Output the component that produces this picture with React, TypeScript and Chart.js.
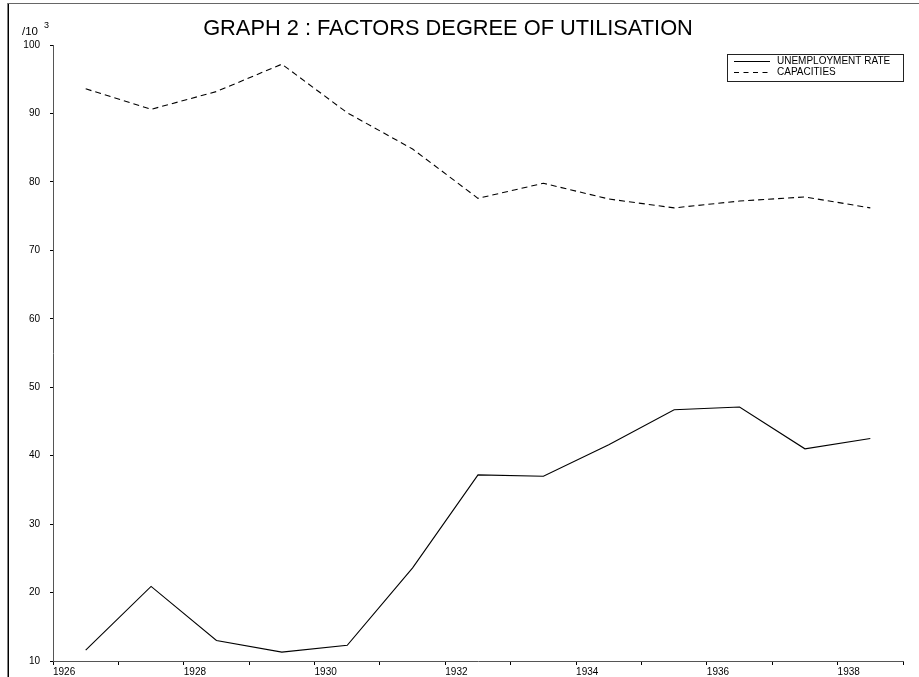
import { useEffect, useRef } from 'react';
import { Chart, registerables } from 'chart.js';

Chart.register(...registerables);

// Mid-year observation points
const periods = [1926.5, 1927.5, 1928.5, 1929.5, 1930.5, 1931.5, 1932.5, 1933.5, 1934.5, 1935.5, 1936.5, 1937.5, 1938.5];
const unemploymentRate = [11.6, 20.9, 13.0, 11.3, 12.3, 23.6, 37.2, 37.0, 41.6, 46.7, 47.1, 41.0, 42.5];
const capacities = [93.6, 90.6, 93.2, 97.2, 90.1, 84.8, 77.6, 79.8, 77.5, 76.2, 77.2, 77.8, 76.2];

const seriesLabels = ['UNEMPLOYMENT RATE', 'CAPACITIES'];
const titleText = 'GRAPH 2 : FACTORS DEGREE OF UTILISATION';
const unitText = '/10';
const unitExponent = '3';

const xMin = 1926;
const xMax = 1939;
const yMin = 10;
const yMax = 100;

const FONT = '"Liberation Sans", Arial, sans-serif';

export default function App() {
  const ref = useRef<HTMLCanvasElement>(null);

  useEffect(() => {
    const canvas = ref.current;
    if (!canvas) return;

    const decorations = {
      id: 'decorations',
      afterDraw(chart: any) {
        const ctx = chart.ctx as CanvasRenderingContext2D;
        ctx.save();
        // frame (left and top lines)
        ctx.strokeStyle = '#000';
        ctx.lineWidth = 1.5;
        ctx.beginPath();
        ctx.moveTo(8.25, 3);
        ctx.lineTo(8.25, 677);
        ctx.stroke();
        ctx.strokeStyle = '#666';
        ctx.lineWidth = 1.2;
        ctx.beginPath();
        ctx.moveTo(8, 3.5);
        ctx.lineTo(919, 3.5);
        ctx.stroke();

        // title
        ctx.fillStyle = '#000';
        ctx.font = `21.8px ${FONT}`;
        ctx.textAlign = 'center';
        ctx.textBaseline = 'alphabetic';
        ctx.fillText(titleText, 448, 35);

        // unit label
        ctx.textAlign = 'left';
        ctx.font = `11.5px ${FONT}`;
        ctx.fillText(unitText, 22, 35);
        ctx.font = `9px ${FONT}`;
        ctx.fillText(unitExponent, 44, 28);

        // legend
        ctx.strokeStyle = '#222';
        ctx.lineWidth = 1;
        ctx.strokeRect(727.5, 54.5, 176, 27);
        const ds = chart.data.datasets;
        const rows = [61.5, 72.5];
        ds.forEach((d: any, i: number) => {
          ctx.beginPath();
          ctx.setLineDash(d.borderDash ? [5, 4.5] : []);
          ctx.strokeStyle = '#000';
          ctx.lineWidth = 1;
          ctx.moveTo(734, rows[i]);
          ctx.lineTo(770, rows[i]);
          ctx.stroke();
          ctx.setLineDash([]);
          ctx.fillStyle = '#000';
          ctx.font = `10px ${FONT}`;
          ctx.textBaseline = 'middle';
          ctx.fillText(d.label, 777, rows[i]);
        });
        ctx.restore();
      },
    };

    const chart = new Chart(canvas, {
      type: 'line',
      data: {
        datasets: [
          {
            label: seriesLabels[0],
            data: periods.map((x, i) => ({ x, y: unemploymentRate[i] })),
            borderColor: '#000',
            borderWidth: 1.1,
            pointRadius: 0,
            tension: 0,
            fill: false,
          },
          {
            label: seriesLabels[1],
            data: periods.map((x, i) => ({ x, y: capacities[i] })),
            borderColor: '#000',
            borderWidth: 1.1,
            borderDash: [6, 4],
            pointRadius: 0,
            tension: 0,
            fill: false,
          },
        ],
      },
      options: {
        animation: false,
        responsive: false,
        devicePixelRatio: 1,
        layout: { padding: { top: 45, right: 16, left: 0, bottom: 0 } },
        plugins: {
          legend: { display: false },
          title: { display: false },
          tooltip: { enabled: false },
        },
        events: [],
        scales: {
          x: {
            type: 'linear',
            min: xMin,
            max: xMax,
            afterFit: (s: any) => {
              s.height = 14;
            },
            border: { display: true, color: '#555', width: 1 },
            grid: { drawOnChartArea: false, drawTicks: true, tickLength: 4, color: '#000', lineWidth: 1 },
            ticks: {
              stepSize: 1,
              maxTicksLimit: 30,
              autoSkip: false,
              maxRotation: 0,
              align: 'start',
              padding: 1,
              color: '#000',
              font: { family: FONT, size: 10 },
              callback: (v: any) => (Number(v) % 2 === 0 ? String(v) : ''),
            },
          },
          y: {
            type: 'linear',
            min: yMin,
            max: yMax,
            afterFit: (s: any) => {
              s.width = 53;
            },
            border: { display: true, color: '#555', width: 1 },
            grid: { drawOnChartArea: false, drawTicks: true, tickLength: 3, color: '#000', lineWidth: 1 },
            ticks: {
              stepSize: 10,
              padding: 10,
              color: '#000',
              font: { family: FONT, size: 10 },
            },
          },
        },
      },
      plugins: [decorations],
    });

    return () => chart.destroy();
  }, []);

  return (
    <div style={{ position: 'fixed', left: 0, top: 0, width: 919, height: 677, background: '#fff' }}>
      <canvas ref={ref} width={919} height={677} style={{ display: 'block', width: 919, height: 677 }} />
    </div>
  );
}
